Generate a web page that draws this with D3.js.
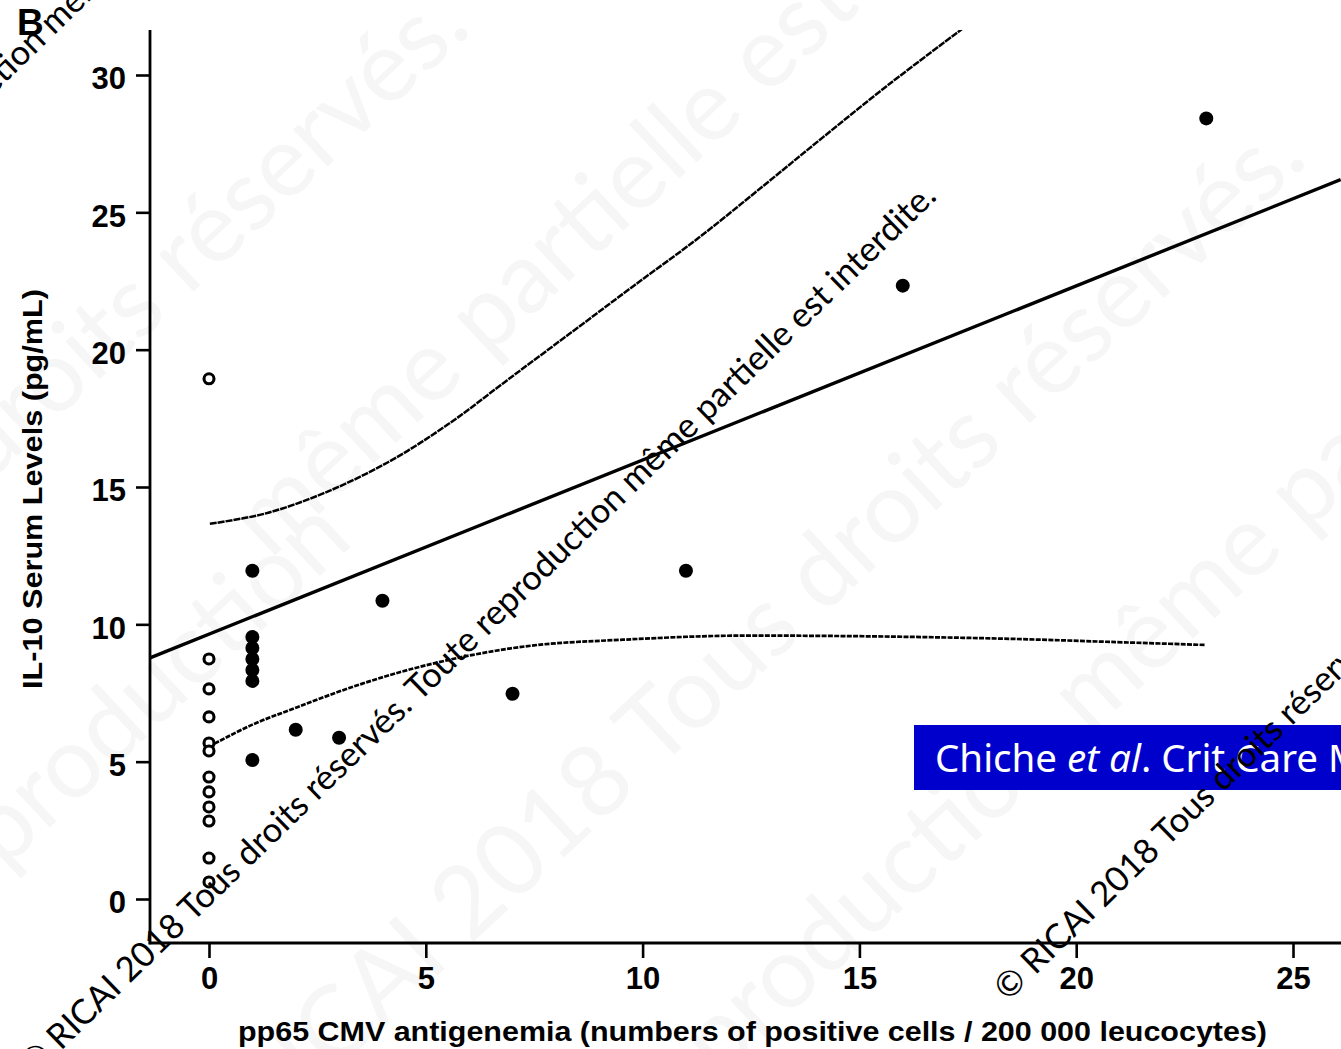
<!DOCTYPE html>
<html>
<head>
<meta charset="utf-8">
<script src="https://cdn.jsdelivr.net/npm/d3@7"></script>
<style>
  html, body { margin: 0; padding: 0; background: #fff; }
  svg { display: block; }
</style>
</head>
<body>
<svg id="chart" width="1341" height="1049"></svg>
<script>
// IL-10 serum levels vs pp65 CMV antigenemia

// tick labels
const xTicks = [0, 5, 10, 15, 20, 25];
const yTicks = [0, 5, 10, 15, 20, 25, 30];

// patients without antigenemia (open circles)
const negX = [0, 0, 0, 0, 0, 0, 0, 0, 0, 0, 0, 0];
const negY = [18.94, 8.74, 7.65, 6.63, 5.68, 5.39, 4.44, 3.90, 3.35, 2.84, 1.49, 0.62];

// patients with antigenemia (filled circles)
const posX = [1, 1, 1, 1, 1, 1, 1, 2, 3, 4, 7, 11, 16, 23];
const posY = [11.95, 9.54, 9.14, 8.74, 8.34, 7.94, 5.06, 6.16, 5.87, 10.86, 7.47, 11.95, 22.33, 28.42];

// regression line (end points)
const fitX = [-1.36, 26.1];
const fitY = [8.78, 26.19];

// 95% confidence band, upper curve
const upperX = [0.02, 1.29, 2.67, 4.15, 5.53, 6.92, 8.41, 9.80, 11.30, 12.79, 14.15, 15.65, 17.38];
const upperY = [13.66, 14.03, 14.79, 15.92, 17.30, 18.94, 20.69, 22.33, 24.08, 25.97, 27.72, 29.62, 31.69];

// 95% confidence band, lower curve
const lowerX = [0, 0.99, 2.05, 3.25, 4.59, 6.09, 7.58, 9.54, 11.78, 14.04, 16.30, 18.53, 20.79, 22.96];
const lowerY = [5.55, 6.34, 6.99, 7.69, 8.34, 8.89, 9.25, 9.44, 9.58, 9.58, 9.54, 9.47, 9.36, 9.25];

const panelLabel = "B";
const xTitle = "pp65 CMV antigenemia (numbers of positive cells / 200 000 leucocytes)";
const yTitle = "IL-10 Serum  Levels (pg/mL)";
const notice = "© RICAI 2018 Tous droits réservés. Toute reproduction même partielle est interdite.";

const svg = d3.select("#chart");
const W = 1341, H = 1049;
svg.append("rect").attr("width", W).attr("height", H).attr("fill", "#fff");

const x = d3.scaleLinear().domain([0, 25]).range([209, 1293]);
const y = d3.scaleLinear().domain([0, 30]).range([899, 75]);

const axisX = 150, axisY = 943;
const plotTop = 30;

const sans = "'Liberation Sans', Arial, Helvetica, sans-serif";
const wmFont = "Lato, 'Open Sans', sans-serif";

// faint large background lettering
const bigWm = svg.append("g").attr("fill", "#f6f6f6").attr("font-family", wmFont)
  .attr("font-size", 100);
const bigAngle = -43;
[
  {t: "2018 Tous droits réservés.", px: 470, py: 945},
  {t: "RICAI\u00a0", px: 470, py: 945, back: true},
  {t: "reproduction même partielle", px: 655, py: 1140},
  {t: "Tous droits réservés.", px: -180, py: 640},
  {t: "même partielle est", px: 270, py: 560},
  {t: "reproduction", px: -60, py: 930}
].forEach(d => {
  bigWm.append("text")
    .attr("transform", `translate(${d.px},${d.py}) rotate(${bigAngle})`)
    .attr("text-anchor", d.back ? "end" : "start")
    .text(d.t);
});

// clip region for the plotted curves
svg.append("clipPath").attr("id", "plotClip")
  .append("rect").attr("x", axisX).attr("y", plotTop).attr("width", W - axisX).attr("height", axisY - plotTop);

const plot = svg.append("g").attr("clip-path", "url(#plotClip)");

const curve = d3.line().x(d => x(d[0])).y(d => y(d[1])).curve(d3.curveCatmullRom.alpha(0.5));

plot.append("path")
  .datum(upperX.map((v, i) => [v, upperY[i]]))
  .attr("d", curve).attr("fill", "none").attr("stroke", "#000")
  .attr("stroke-width", 2.5).attr("stroke-dasharray", "7,1");

plot.append("path")
  .datum(lowerX.map((v, i) => [v, lowerY[i]]))
  .attr("d", curve).attr("fill", "none").attr("stroke", "#000")
  .attr("stroke-width", 2.7).attr("stroke-dasharray", "5,1.3");

plot.append("path")
  .datum(fitX.map((v, i) => [v, fitY[i]]))
  .attr("d", d3.line().x(d => x(d[0])).y(d => y(d[1])))
  .attr("fill", "none").attr("stroke", "#000").attr("stroke-width", 3.4);

// points
plot.selectAll("circle.neg").data(negX.map((v, i) => [v, negY[i]])).join("circle")
  .attr("class", "neg").attr("cx", d => x(d[0])).attr("cy", d => y(d[1]))
  .attr("r", 5).attr("fill", "#fff").attr("stroke", "#000").attr("stroke-width", 3.1);

plot.selectAll("circle.pos").data(posX.map((v, i) => [v, posY[i]])).join("circle")
  .attr("class", "pos").attr("cx", d => x(d[0])).attr("cy", d => y(d[1]))
  .attr("r", 7).attr("fill", "#000");

// axes
const gy = svg.append("g").attr("transform", `translate(${axisX},0)`)
  .call(d3.axisLeft(y).tickValues(yTicks).tickSize(14).tickPadding(10).tickSizeOuter(0));
gy.select(".domain").remove();
gy.selectAll(".tick line").attr("stroke", "#000").attr("stroke-width", 2.6);
gy.selectAll(".tick text").attr("font-family", sans).attr("font-weight", "bold")
  .attr("font-size", 31).attr("fill", "#000").attr("dy", "0.45em");

const gx = svg.append("g").attr("transform", `translate(0,${axisY})`)
  .call(d3.axisBottom(x).tickValues(xTicks).tickSize(15).tickPadding(9).tickSizeOuter(0));
gx.select(".domain").remove();
gx.selectAll(".tick line").attr("stroke", "#000").attr("stroke-width", 2.6);
gx.selectAll(".tick text").attr("font-family", sans).attr("font-weight", "bold")
  .attr("font-size", 31).attr("fill", "#000");

svg.append("line").attr("x1", axisX).attr("x2", axisX).attr("y1", plotTop).attr("y2", axisY + 1.3)
  .attr("stroke", "#000").attr("stroke-width", 2.8);
svg.append("line").attr("x1", axisX - 1.4).attr("x2", W).attr("y1", axisY).attr("y2", axisY)
  .attr("stroke", "#000").attr("stroke-width", 2.8);

// titles
svg.append("text").attr("x", (238 + 1267) / 2).attr("y", 1041)
  .attr("text-anchor", "middle").attr("font-family", sans).attr("font-weight", "bold")
  .attr("font-size", 28).attr("textLength", 1029).attr("lengthAdjust", "spacingAndGlyphs")
  .text(xTitle);

svg.append("text").attr("transform", "translate(42,489) rotate(-90)")
  .attr("text-anchor", "middle").attr("font-family", sans).attr("font-weight", "bold")
  .attr("font-size", 27).attr("textLength", 400).attr("lengthAdjust", "spacingAndGlyphs")
  .text(yTitle);

svg.append("text").attr("x", 17).attr("y", 35)
  .attr("font-family", sans).attr("font-weight", "bold").attr("font-size", 37)
  .text(panelLabel);

// citation box
svg.append("rect").attr("x", 914).attr("y", 725).attr("width", W - 914).attr("height", 65)
  .attr("fill", "#0000cc");
const cite = svg.append("text").attr("x", 935).attr("y", 772)
  .attr("font-family", "'Noto Sans', 'Open Sans', sans-serif").attr("font-size", 38.5).attr("fill", "#fff");
cite.append("tspan").text("Chiche ");
cite.append("tspan").attr("font-style", "italic").text("et al");
cite.append("tspan").text(". Crit Care Med");

// copyright notice lines
const wmAngle = -44.2;
const wm = svg.append("g").attr("font-family", wmFont).attr("fill", "#000");
// size the notice so the part after the symbol spans the measured run
const probe = wm.append("text").attr("font-size", 30).text(notice.slice(2));
const probeLen = probe.node().getComputedTextLength();
probe.remove();
const wmSize = 30 * 1224 / probeLen;

[
  {px: 938, py: 198, a: "end"},
  {px: 1008, py: 1002, a: "start"},
  {px: 358, py: -260, a: "end"}
].forEach(d => {
  wm.append("text")
    .attr("transform", `translate(${d.px},${d.py}) rotate(${wmAngle})`)
    .attr("text-anchor", d.a).attr("font-size", wmSize)
    .text(notice);
});
</script>
</body>
</html>
